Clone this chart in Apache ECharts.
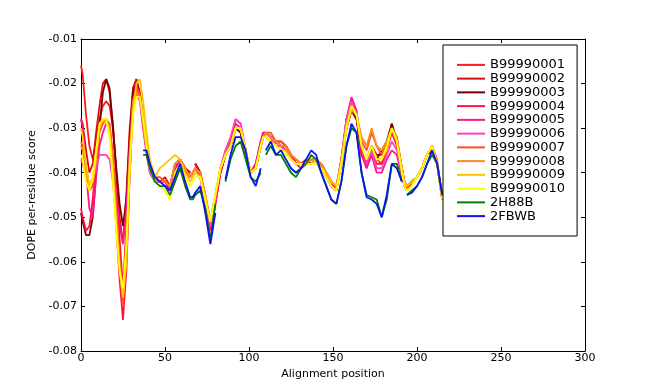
<!DOCTYPE html>
<html><head><meta charset="utf-8">
<script src="https://cdn.jsdelivr.net/npm/echarts@6/dist/echarts.min.js"></script>
<style>html,body{margin:0;padding:0;background:#fff}#c{width:650px;height:390px}</style>
</head><body><div id="c"></div>
<script>
const positions = [0,1,3,5,7,9,11,13,15,17,19,21,23,25,27,29,31,33,35,37,39,41,44,
47,50,53,56,59,62,65,66.5,68,71,74,77,80,83,86,89,92,95,98,101,104,107,108.5,
110,113,116,119,122,125,128,131,134,137,140,143,146,149,152,155,158,161,164,167,170,173,176,179,182,185,188,191,192.5,
194,197,200,203,206,209,212,215];

const seriesNames = ['B99990001','B99990002','B99990003','B99990004','B99990005','B99990006','B99990007','B99990008','B99990009','B99990010','2H88B','2FBWB'];
const seriesColors = ['#ff1a1a','#d40f0f','#7a0000','#ff1040','#ff1590','#ff40c0','#ff5020','#ff8a20','#ffc400','#ffff00','#008000','#0a14f0'];

const xTicks = [0,50,100,150,200,250,300];
const yTicks = [-0.08,-0.07,-0.06,-0.05,-0.04,-0.03,-0.02,-0.01];

const b1 = [-0.016,-0.018,-0.027,-0.034,-0.037,-0.033,-0.028,-0.025,-0.024,-0.025,-0.030,-0.040,-0.055,-0.066,-0.052,-0.033,-0.021,-0.019,-0.023,-0.029,-0.035,-0.039,-0.041,
-0.042,-0.042,-0.043,-0.039,-0.037,-0.039,-0.040, null,
-0.038,-0.040,-0.046,-0.053,-0.047,-0.040,-0.036,-0.034,-0.030,-0.030,-0.035,-0.040,-0.039,-0.034, -0.032,
-0.031,-0.032,-0.033,-0.034,-0.034,-0.036,-0.038,-0.038,-0.038,-0.038,-0.037,-0.039,-0.040,-0.042,-0.044,-0.038,-0.030,-0.026,-0.028,-0.035,-0.038,-0.034,-0.037,-0.038,-0.035,-0.030,-0.033,-0.039, -0.042,
-0.043,-0.042,-0.041,-0.039,-0.036,-0.034,-0.038,-0.046];

const b2 = [-0.028,-0.029,-0.035,-0.040,-0.038,-0.031,-0.025,-0.020,-0.019,-0.022,-0.029,-0.040,-0.050,-0.056,-0.045,-0.030,-0.021,-0.019,-0.022,-0.029,-0.035,-0.039,-0.041,
-0.042,-0.041,-0.043,-0.038,-0.037,-0.039,-0.041, null,
-0.038,-0.040,-0.046,-0.052,-0.046,-0.040,-0.036,-0.034,-0.030,-0.031,-0.036,-0.040,-0.038,-0.033, -0.031,
-0.031,-0.032,-0.033,-0.033,-0.034,-0.036,-0.037,-0.038,-0.037,-0.038,-0.037,-0.038,-0.040,-0.042,-0.043,-0.037,-0.029,-0.025,-0.027,-0.035,-0.037,-0.034,-0.036,-0.036,-0.034,-0.029,-0.033,-0.040, -0.042,
-0.044,-0.042,-0.041,-0.039,-0.036,-0.035,-0.038,-0.045];

const b3 = [-0.049,-0.051,-0.054,-0.054,-0.050,-0.040,-0.030,-0.022,-0.019,-0.021,-0.030,-0.039,-0.047,-0.052,-0.046,-0.032,-0.022,-0.020,-0.022,-0.028,-0.034,-0.039,-0.041,
-0.042,-0.042,-0.043,-0.039,-0.037,-0.039,-0.040, null,
-0.038,-0.040,-0.046,-0.052,-0.046,-0.039,-0.036,-0.034,-0.030,-0.031,-0.036,-0.040,-0.039,-0.034, -0.032,
-0.031,-0.032,-0.033,-0.034,-0.034,-0.036,-0.038,-0.038,-0.038,-0.037,-0.037,-0.039,-0.040,-0.042,-0.043,-0.038,-0.030,-0.026,-0.028,-0.036,-0.038,-0.034,-0.037,-0.035,-0.033,-0.029,-0.033,-0.039, -0.042,
-0.043,-0.042,-0.041,-0.039,-0.036,-0.035,-0.038,-0.046];

const b4 = [-0.048,-0.050,-0.053,-0.052,-0.046,-0.037,-0.030,-0.028,-0.028,-0.030,-0.040,-0.052,-0.064,-0.073,-0.062,-0.040,-0.024,-0.020,-0.023,-0.030,-0.035,-0.039,-0.042,
-0.042,-0.042,-0.044,-0.039,-0.038,-0.040,-0.040, null,
-0.038,-0.041,-0.047,-0.053,-0.047,-0.040,-0.036,-0.033,-0.029,-0.030,-0.036,-0.040,-0.039,-0.034, -0.032,
-0.032,-0.033,-0.033,-0.034,-0.035,-0.036,-0.038,-0.038,-0.038,-0.037,-0.037,-0.039,-0.041,-0.043,-0.044,-0.037,-0.028,-0.024,-0.027,-0.036,-0.039,-0.035,-0.038,-0.038,-0.035,-0.031,-0.034,-0.040, -0.043,
-0.044,-0.042,-0.041,-0.039,-0.036,-0.034,-0.038,-0.046];

const b5 = [-0.028,-0.030,-0.040,-0.048,-0.050,-0.041,-0.034,-0.031,-0.029,-0.030,-0.037,-0.045,-0.052,-0.056,-0.048,-0.034,-0.024,-0.021,-0.023,-0.029,-0.035,-0.040,-0.042,
-0.042,-0.043,-0.044,-0.039,-0.037,-0.039,-0.041, -0.040,
-0.039,-0.041,-0.047,-0.053,-0.046,-0.039,-0.035,-0.033,-0.028,-0.029,-0.035,-0.040,-0.038,-0.033, -0.031,
-0.031,-0.032,-0.034,-0.034,-0.035,-0.036,-0.038,-0.039,-0.038,-0.038,-0.037,-0.039,-0.041,-0.043,-0.044,-0.037,-0.028,-0.023,-0.026,-0.035,-0.039,-0.036,-0.040,-0.040,-0.037,-0.035,-0.036,-0.041, -0.043,
-0.044,-0.042,-0.041,-0.039,-0.036,-0.034,-0.038,-0.046];

const b6 = [-0.037,-0.038,-0.041,-0.043,-0.042,-0.039,-0.036,-0.036,-0.036,-0.037,-0.042,-0.050,-0.060,-0.066,-0.058,-0.040,-0.026,-0.022,-0.024,-0.030,-0.036,-0.040,-0.042,
-0.042,-0.042,-0.043,-0.038,-0.037,-0.040,-0.041, -0.040,
-0.039,-0.041,-0.047,-0.052,-0.046,-0.039,-0.035,-0.032,-0.028,-0.029,-0.035,-0.040,-0.039,-0.034, -0.032,
-0.031,-0.032,-0.034,-0.034,-0.035,-0.037,-0.038,-0.038,-0.038,-0.038,-0.037,-0.039,-0.041,-0.043,-0.044,-0.037,-0.028,-0.024,-0.027,-0.034,-0.038,-0.035,-0.039,-0.039,-0.036,-0.033,-0.035,-0.040, -0.043,
-0.044,-0.042,-0.041,-0.039,-0.036,-0.034,-0.037,-0.046];

const b7 = [-0.033,-0.034,-0.040,-0.044,-0.043,-0.036,-0.031,-0.029,-0.028,-0.029,-0.036,-0.048,-0.060,-0.070,-0.060,-0.038,-0.024,-0.021,-0.022,-0.028,-0.034,-0.039,-0.041,
-0.041,-0.042,-0.043,-0.038,-0.037,-0.039,-0.041, -0.040,
-0.039,-0.040,-0.045,-0.051,-0.045,-0.039,-0.036,-0.034,-0.030,-0.030,-0.035,-0.040,-0.039,-0.034, -0.032,
-0.031,-0.031,-0.033,-0.033,-0.034,-0.036,-0.037,-0.038,-0.038,-0.038,-0.037,-0.038,-0.040,-0.042,-0.043,-0.038,-0.030,-0.026,-0.027,-0.033,-0.035,-0.031,-0.034,-0.036,-0.034,-0.030,-0.032,-0.039, -0.042,
-0.044,-0.042,-0.041,-0.039,-0.036,-0.034,-0.038,-0.046];

const b8 = [-0.034,-0.035,-0.039,-0.043,-0.041,-0.035,-0.030,-0.028,-0.028,-0.030,-0.038,-0.050,-0.061,-0.068,-0.057,-0.036,-0.024,-0.022,-0.023,-0.029,-0.035,-0.039,-0.041,
-0.042,-0.042,-0.043,-0.038,-0.037,-0.039,-0.041, -0.040,
-0.039,-0.040,-0.045,-0.051,-0.045,-0.039,-0.036,-0.034,-0.030,-0.030,-0.035,-0.040,-0.039,-0.034, -0.032,
-0.031,-0.032,-0.033,-0.034,-0.034,-0.036,-0.037,-0.038,-0.038,-0.037,-0.037,-0.038,-0.040,-0.042,-0.043,-0.037,-0.029,-0.026,-0.027,-0.032,-0.034,-0.030,-0.034,-0.035,-0.033,-0.030,-0.032,-0.039, -0.042,
-0.043,-0.042,-0.041,-0.039,-0.036,-0.034,-0.038,-0.046];

const b9 = [-0.030,-0.032,-0.038,-0.043,-0.042,-0.037,-0.030,-0.028,-0.028,-0.031,-0.040,-0.052,-0.062,-0.068,-0.060,-0.040,-0.026,-0.020,-0.019,-0.024,-0.031,-0.037,-0.041,
-0.039,-0.038,-0.037,-0.036,-0.037,-0.040,-0.042, -0.041,
-0.040,-0.041,-0.046,-0.051,-0.045,-0.039,-0.036,-0.034,-0.030,-0.030,-0.035,-0.040,-0.039,-0.034, -0.032,
-0.032,-0.033,-0.034,-0.035,-0.035,-0.037,-0.038,-0.038,-0.038,-0.038,-0.037,-0.039,-0.040,-0.042,-0.043,-0.038,-0.030,-0.025,-0.027,-0.034,-0.037,-0.034,-0.037,-0.037,-0.035,-0.030,-0.033,-0.039, -0.042,
-0.043,-0.042,-0.041,-0.039,-0.036,-0.034,-0.038,-0.046];

const b10 = [-0.036,-0.037,-0.042,-0.044,-0.041,-0.035,-0.029,-0.028,-0.028,-0.032,-0.042,-0.053,-0.062,-0.066,-0.056,-0.038,-0.027,-0.023,-0.023,-0.028,-0.034,-0.039,-0.042,
-0.043,-0.044,-0.046,-0.040,-0.038,-0.041,-0.043, -0.042,
-0.041,-0.041,-0.046,-0.051,-0.045,-0.039,-0.036,-0.034,-0.030,-0.030,-0.035,-0.040,-0.039,-0.034, -0.032,
-0.032,-0.033,-0.034,-0.035,-0.036,-0.037,-0.038,-0.038,-0.038,-0.038,-0.038,-0.039,-0.041,-0.043,-0.044,-0.038,-0.030,-0.025,-0.027,-0.034,-0.037,-0.034,-0.037,-0.037,-0.034,-0.030,-0.033,-0.040, -0.043,
-0.044,-0.043,-0.041,-0.039,-0.036,-0.034,-0.038,-0.046];

const h88b = [null,null,null,null,null,null,null,null,null,null,null,null,null,null,null,null,null,null,null,
-0.036,-0.036,-0.039,-0.042,
-0.043,-0.043,-0.045,-0.042,-0.039,-0.043,-0.046, -0.046,
-0.045,-0.044,-0.048,-0.055,-0.047,null,-0.042,-0.037,-0.034,-0.033,-0.037,-0.041,-0.042,-0.040, null,
-0.036,-0.034,-0.036,-0.036,-0.038,-0.040,-0.041,-0.039,-0.038,-0.036,-0.037,-0.040,-0.043,-0.046,-0.047,-0.042,-0.034,-0.030,-0.031,-0.040,-0.045,-0.0455,-0.046,-0.050,-0.046,-0.038,-0.038,-0.042, null,
-0.045,-0.044,-0.043,-0.041,-0.038,-0.036,-0.038,-0.045];

const fbwb = [null,null,null,null,null,null,null,null,null,null,null,null,null,null,null,null,null,null,null,
-0.035,-0.035,-0.038,-0.041,
-0.042,-0.043,-0.044,-0.041,-0.038,-0.042,-0.0455, -0.0455,
-0.0445,-0.043,-0.049,-0.056,-0.049,null,-0.0415,-0.036,-0.032,-0.032,-0.035,-0.041,-0.043,-0.039, null,
-0.035,-0.033,-0.036,-0.035,-0.037,-0.039,-0.040,-0.039,-0.037,-0.035,-0.036,-0.040,-0.043,-0.046,-0.047,-0.042,-0.034,-0.029,-0.031,-0.040,-0.0455,-0.046,-0.047,-0.050,-0.045,-0.038,-0.039,-0.042, null,
-0.045,-0.0445,-0.043,-0.041,-0.038,-0.035,-0.038,-0.045];

const allValues = [b1,b2,b3,b4,b5,b6,b7,b8,b9,b10,h88b,fbwb];

const FONT = 'DejaVu Sans';
const chart = echarts.init(document.getElementById('c'), null, {renderer:'canvas'});

const series = allValues.map((vals, i) => ({
  name: seriesNames[i],
  type: 'line',
  data: positions.map((x, j) => [x, vals[j] === null || vals[j] === undefined ? '-' : vals[j]]),
  showSymbol: false,
  symbol: 'none',
  connectNulls: false,
  lineStyle: { width: 1.8, color: seriesColors[i] },
  itemStyle: { color: seriesColors[i] },
  animation: false,
  xAxisIndex: 0, yAxisIndex: 0
}));

const axisCommon = {
  axisLine: { show: true, onZero: false, lineStyle: { color: '#000', width: 1 } },
  axisTick: { show: true, inside: true, length: 4, lineStyle: { color: '#000' } },
  splitLine: { show: false }
};

chart.setOption({
  backgroundColor: '#fff',
  animation: false,
  grid: { left: 81, right: 65, top: 39, bottom: 39, containLabel: false },
  legend: {
    orient: 'vertical',
    left: 443, top: 45,
    width: 131,
    padding: [13, 12, 13, 14],
    itemGap: 0,
    itemWidth: 28, itemHeight: 2,
    icon: 'rect',
    backgroundColor: '#fff',
    borderColor: '#000', borderWidth: 1, borderRadius: 0,
    textStyle: { fontFamily: FONT, fontSize: 13, color: '#000', lineHeight: 13.75 },
    data: seriesNames,
    selectedMode: false
  },
  xAxis: [
    Object.assign({}, axisCommon, {
      type: 'value', min: xTicks[0], max: xTicks[xTicks.length-1], interval: 50, position: 'bottom',
      name: 'Alignment position', nameLocation: 'middle', nameGap: 15,
      nameTextStyle: { fontFamily: FONT, fontSize: 11, color: '#000' },
      axisLabel: { fontFamily: FONT, fontSize: 11, color: '#000', margin: 2 }
    }),
    Object.assign({}, axisCommon, {
      type: 'value', min: xTicks[0], max: xTicks[xTicks.length-1], interval: 50, position: 'top',
      axisLabel: { show: false }
    })
  ],
  yAxis: [
    Object.assign({}, axisCommon, {
      type: 'value', min: yTicks[0], max: yTicks[yTicks.length-1], interval: 0.01, position: 'left',
      name: 'DOPE per-residue score', nameLocation: 'middle', nameGap: 35,
      nameTextStyle: { fontFamily: FONT, fontSize: 11, color: '#000' },
      axisLabel: { fontFamily: FONT, fontSize: 11, color: '#000', margin: 4,
        formatter: v => v.toFixed(2) }
    }),
    Object.assign({}, axisCommon, {
      type: 'value', min: yTicks[0], max: yTicks[yTicks.length-1], interval: 0.01, position: 'right',
      axisLabel: { show: false }
    })
  ],
  series: series
});
</script></body></html>
